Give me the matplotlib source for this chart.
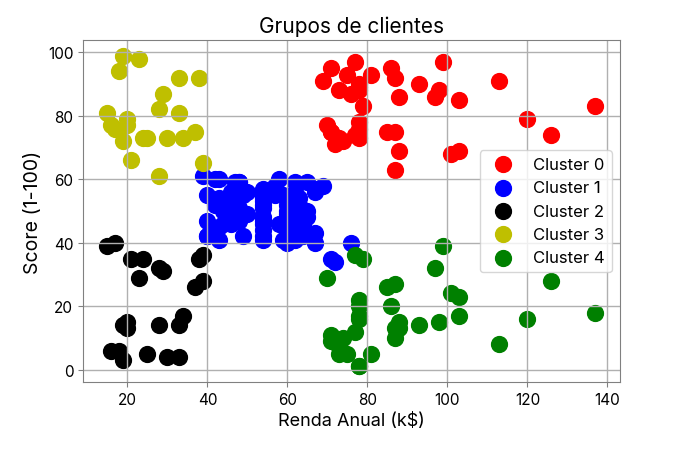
import matplotlib
matplotlib.use("Agg")
import matplotlib.pyplot as plt

plt.rcParams['font.family'] = ['Inter', 'DejaVu Sans']

# Renda anual (k$) e score por cluster
renda_c0 = [69, 70, 71, 71, 71, 72, 73, 73, 74, 75, 76, 77, 77, 78, 78, 78, 78, 78, 78, 79,
            81, 85, 86, 87, 87, 87, 88, 88, 93, 97, 98, 99, 101, 103, 103, 113, 120, 126, 137]
score_c0 = [91, 77, 95, 75, 75, 71, 88, 73, 72, 93, 87, 97, 74, 90, 88, 76, 89, 78, 73, 83,
            93, 75, 95, 63, 75, 92, 86, 69, 90, 86, 88, 97, 68, 85, 69, 91, 79, 74, 83]

renda_c1 = [39, 40, 40, 40, 40, 42, 42, 43, 43, 43, 43, 44, 44, 46, 46, 46, 46, 47, 47, 48,
            48, 48, 48, 48, 48, 49, 49, 50, 50, 54, 54, 54, 54, 54, 54, 54, 54, 54, 54,
            54, 54, 57, 57, 58, 58, 59, 59, 60, 60, 60, 60, 60, 60, 61, 61, 62, 62, 62, 62,
            62, 62, 63, 63, 63, 63, 63, 63, 64, 64, 65, 65, 65, 65, 67, 67, 67, 67, 69,
            71, 72, 76]
score_c1 = [61, 55, 47, 42, 42, 52, 60, 54, 60, 45, 41, 50, 46, 51, 46, 56, 55, 52, 59, 51,
            59, 50, 48, 59, 47, 55, 42, 49, 56, 47, 54, 53, 48, 52, 42, 51, 55, 41, 44,
            57, 46, 58, 55, 60, 46, 55, 41, 49, 40, 42, 52, 47, 50, 42, 49, 41, 48, 59, 55,
            56, 42, 50, 46, 43, 48, 52, 54, 42, 46, 48, 50, 43, 59, 43, 57, 56, 40, 58,
            35, 34, 40]

renda_c2 = [15, 16, 17, 18, 19, 19, 20, 20, 21, 23, 24, 25, 28, 28, 29, 30, 33, 33, 34, 37,
            38, 39, 39]
score_c2 = [39, 6, 40, 6, 3, 14, 15, 13, 35, 29, 35, 5, 14, 32, 31, 4, 4, 14, 17, 26,
            35, 36, 28]

renda_c3 = [15, 16, 17, 18, 19, 19, 20, 20, 21, 23, 24, 25, 28, 28, 29, 30, 33, 33, 34, 37,
            38, 39]
score_c3 = [81, 77, 76, 94, 72, 99, 77, 79, 66, 98, 73, 73, 82, 61, 87, 73, 92, 81, 73, 75,
            92, 65]

renda_c4 = [70, 71, 71, 73, 73, 74, 75, 77, 77, 78, 78, 78, 78, 78, 78, 79, 81, 85, 86, 87,
            87, 87, 88, 88, 93, 97, 98, 99, 101, 103, 103, 113, 120, 126, 137]
score_c4 = [29, 11, 9, 5, 7, 10, 5, 12, 36, 22, 17, 20, 16, 1, 1, 35, 5, 26, 20, 27,
            13, 10, 13, 15, 14, 32, 15, 39, 24, 17, 23, 8, 16, 28, 18]

clusters = [
    (renda_c0, score_c0, 'red', 'Cluster 0'),
    (renda_c1, score_c1, 'blue', 'Cluster 1'),
    (renda_c2, score_c2, 'black', 'Cluster 2'),
    (renda_c3, score_c3, 'y', 'Cluster 3'),
    (renda_c4, score_c4, 'green', 'Cluster 4'),
]

fig = plt.figure(figsize=(6.88, 4.64), dpi=100)
ax = fig.add_axes([0.1206, 0.1746, 0.7804, 0.737])

for x, y, cor, nome in clusters:
    ax.scatter(x, y, s=130, c=cor, label=nome)

ax.set_title('Grupos de clientes', fontsize=15)
ax.set_xlabel('Renda Anual (k$)', fontsize=13)
ax.set_ylabel('Score (1-100)', fontsize=14)
ax.tick_params(labelsize=11, color='#808080')
for sp in ax.spines.values():
    sp.set_color('#808080')
ax.grid(True, color='#b0b0b0', linewidth=1)
ax.legend(loc='center right', fontsize=12, labelspacing=0.5)

fig.savefig('out.png', dpi=100)
